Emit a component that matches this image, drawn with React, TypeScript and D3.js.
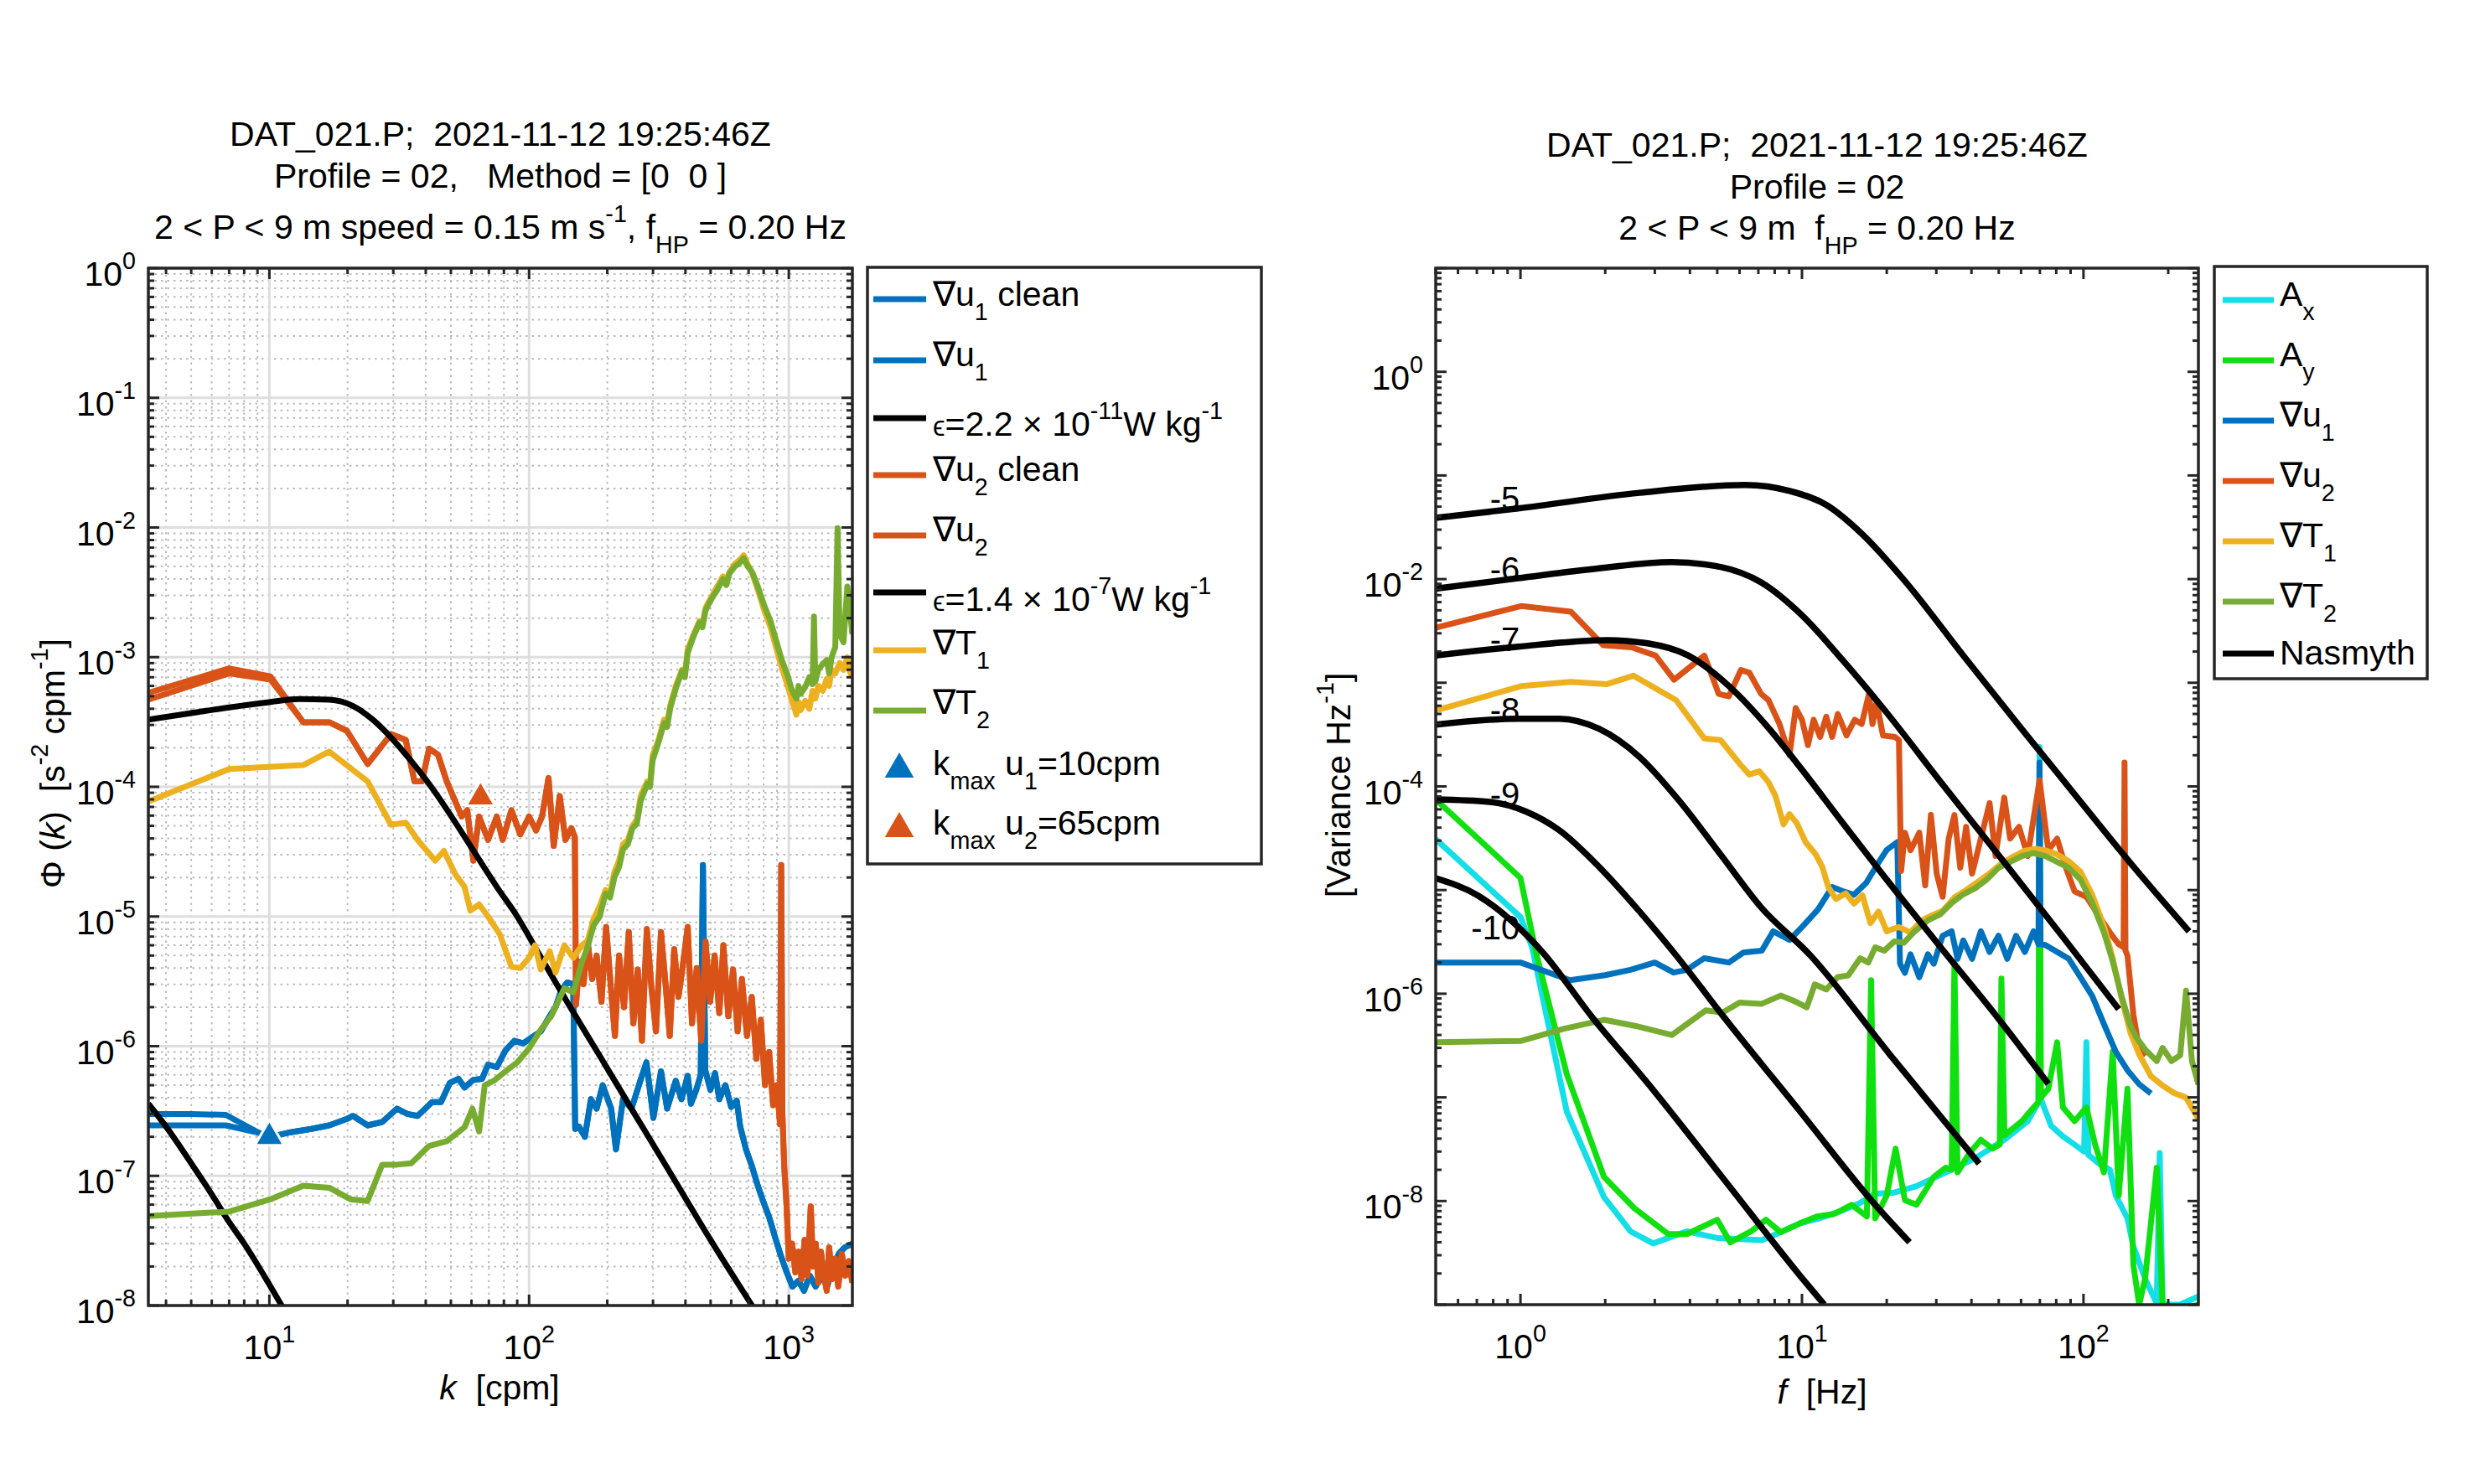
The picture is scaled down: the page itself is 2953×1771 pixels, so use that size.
import { useRef, useEffect } from "react";
import * as d3 from "d3";

type Pt = [number, number];
type Part = { t: string; sup?: boolean; sub?: boolean; it?: boolean; sc?: number };

const W = 2953;
const H = 1771;
const FONT = "'Liberation Sans', Arial, Helvetica, sans-serif";
const INK = "#262626";

const BLUE = "#0072BD";
const RED = "#D95319";
const YEL = "#EDB120";
const GRN = "#77AC30";
const CYAN = "#14DEE6";
const LIME = "#10E010";

// ---------- left panel: wavenumber spectra, k [cpm] vs Phi ----------
const kDomain: Pt = [3.42, 1757];
const phiDomain: Pt = [1e-8, 1];

const u1CleanHead: Pt[] = [[3.42, 2.45e-7], [5.0, 2.45e-7], [6.8, 2.45e-7]];
const u1Raw: Pt[] = [
  [3.42, 3.0e-7], [5.0, 3.0e-7], [6.8, 2.95e-7], [9.1, 2.15e-7], [10.1, 2.0e-7], [11.8, 2.15e-7],
  [14.5, 2.3e-7], [17.0, 2.45e-7], [19.9, 2.75e-7], [21.0, 2.9e-7], [23.9, 2.45e-7], [27.2, 2.6e-7],
  [31.0, 3.3e-7], [34.0, 3.0e-7], [37.2, 2.9e-7], [42.3, 3.7e-7], [45.8, 3.7e-7], [49.5, 5.2e-7],
  [53.5, 5.6e-7], [56.4, 4.8e-7], [61.0, 5.5e-7], [65.9, 5.6e-7], [69.5, 7.2e-7], [75.1, 6.9e-7],
  [81.2, 9.3e-7], [87.8, 1.1e-6], [94.9, 1.05e-6], [102.6, 1.17e-6], [110.9, 1.3e-6], [120, 1.7e-6],
  [126.4, 2.0e-6], [133.1, 2.7e-6], [140.3, 3.1e-6], [147.9, 3.0e-6], [150.5, 2.3e-7], [155.6, 2.4e-7],
  [164, 2.0e-7], [173, 3.9e-7], [182, 3.3e-7], [192, 5.0e-7], [207, 3.3e-7], [216, 1.6e-7],
  [230, 3.9e-7], [248, 3.3e-7], [268, 5.4e-7], [283, 7.5e-7], [301, 2.8e-7], [322, 6.4e-7],
  [340, 3.3e-7], [367, 5.4e-7], [386, 3.9e-7], [408, 5.9e-7], [420, 3.6e-7], [440, 4.6e-7],
  [458, 6.0e-7], [467, 2.5e-5], [477, 6.5e-7], [499, 4.6e-7], [520, 6.2e-7], [540, 3.9e-7],
  [570, 5.0e-7], [600, 3.4e-7], [630, 3.8e-7], [650, 2.4e-7], [684, 1.6e-7], [720, 1.2e-7],
  [758, 8.5e-8], [798, 6.3e-8], [840, 4.8e-8], [888, 3.3e-8], [933, 2.4e-8], [982, 1.8e-8],
  [1033, 1.4e-8], [1088, 1.55e-8], [1145, 1.3e-8], [1205, 1.7e-8], [1268, 1.4e-8], [1335, 1.7e-8],
  [1405, 1.4e-8], [1479, 2.0e-8], [1557, 2.5e-8], [1638, 2.8e-8], [1757, 3.0e-8],
];

const u2CleanHead: Pt[] = [[3.42, 4.7e-4], [7.0, 7.5e-4], [10.1, 6.7e-4]];
const u2Raw: Pt[] = [
  [3.42, 5.3e-4], [7.0, 8.2e-4], [10.1, 7.1e-4], [13.5, 3.15e-4], [17.0, 3.15e-4], [19.9, 2.7e-4],
  [23.9, 1.5e-4], [29.4, 2.55e-4], [33.5, 2.3e-4], [36.2, 1.1e-4], [38.7, 1.1e-4], [41.2, 1.97e-4],
  [44.6, 1.77e-4], [48.2, 1.1e-4], [55.0, 5.9e-5], [57.8, 6.6e-5], [61.0, 2.7e-5], [64.2, 5.9e-5],
  [69.5, 3.9e-5], [75.1, 5.9e-5], [79.1, 3.9e-5], [85.5, 6.6e-5], [92.5, 4.3e-5], [100, 5.9e-5],
  [106.4, 4.6e-5], [112.2, 5.9e-5], [118.8, 1.17e-4], [124.4, 3.5e-5], [131.2, 8.5e-5], [138, 3.9e-5],
  [145.5, 4.8e-5], [150, 4.1e-5], [151.6, 2.1e-6], [156, 4.5e-6], [162, 3.0e-6], [168, 6.4e-6],
  [175, 3.3e-6], [182, 5.0e-6], [190, 2.2e-6], [198, 8.3e-6], [206, 3.0e-6], [214, 1.2e-6],
  [222, 5.0e-6], [232, 2.0e-6], [242, 7.6e-6], [252, 1.5e-6], [262, 3.9e-6], [272, 1.1e-6],
  [284, 8.0e-6], [296, 2.8e-6], [308, 1.3e-6], [322, 7.6e-6], [334, 3.3e-6], [348, 1.2e-6],
  [362, 5.6e-6], [376, 2.4e-6], [392, 4.4e-6], [408, 8.3e-6], [424, 1.5e-6], [442, 4.0e-6],
  [460, 1.1e-6], [478, 6.4e-6], [498, 2.2e-6], [518, 5.0e-6], [540, 1.8e-6], [560, 6.0e-6],
  [585, 1.7e-6], [610, 3.9e-6], [635, 1.3e-6], [660, 3.3e-6], [690, 1.2e-6], [720, 2.4e-6],
  [750, 8.0e-7], [780, 1.6e-6], [810, 5.0e-7], [840, 9.0e-7], [870, 3.5e-7], [900, 5.0e-7],
  [925, 2.5e-7], [935, 2.5e-5], [945, 3.0e-7], [960, 1.2e-7], [980, 6.0e-8], [1000, 2.3e-8],
  [1030, 3.0e-8], [1060, 1.8e-8], [1090, 2.6e-8], [1120, 1.6e-8], [1150, 3.2e-8], [1180, 1.7e-8],
  [1215, 5.8e-8], [1240, 2.0e-8], [1270, 3.0e-8], [1300, 1.5e-8], [1330, 2.6e-8], [1360, 1.8e-8],
  [1400, 1.3e-8], [1430, 2.8e-8], [1470, 1.6e-8], [1510, 2.3e-8], [1550, 1.4e-8], [1600, 2.5e-8],
  [1650, 1.7e-8], [1700, 2.2e-8], [1757, 1.5e-8],
];

const t1Left: Pt[] = [
  [3.42, 7.7e-5], [7.0, 1.37e-4], [13.5, 1.47e-4], [17.0, 1.87e-4], [23.9, 1.1e-4], [29.4, 5.1e-5],
  [33.5, 5.3e-5], [37.2, 3.9e-5], [43.5, 2.7e-5], [47.0, 3.2e-5], [52.1, 2.1e-5], [56.4, 1.7e-5],
  [59.4, 1.11e-5], [64.2, 1.24e-5], [69.5, 1.0e-5], [77.1, 7.3e-6], [85.5, 4.1e-6], [92.5, 4.0e-6],
  [100, 4.8e-6], [105.4, 6.0e-6], [110.9, 3.9e-6], [120, 5.4e-6], [126.4, 3.7e-6], [136.7, 6.0e-6],
  [148, 4.8e-6], [160, 6.0e-6], [168, 6.5e-6], [177, 9.5e-6], [187, 1.2e-5], [197, 1.6e-5],
  [205, 1.5e-5], [213, 2.2e-5], [222, 2.7e-5], [230, 3.6e-5], [240, 3.9e-5], [250, 5.0e-5],
  [260, 5.6e-5], [269, 8.5e-5], [285, 1.1e-4], [292, 1.05e-4], [299, 1.75e-4], [315, 2.3e-4],
  [331, 3.3e-4], [340, 3.1e-4], [350, 4.3e-4], [368, 6.1e-4], [388, 8.0e-4], [398, 7.4e-4],
  [408, 1.15e-3], [430, 1.5e-3], [453, 1.9e-3], [465, 1.8e-3], [478, 2.4e-3], [503, 2.9e-3],
  [530, 3.5e-3], [558, 4.2e-3], [575, 3.8e-3], [590, 4.5e-3], [619, 5.2e-3], [645, 5.6e-3],
  [670, 6.1e-3], [695, 5.2e-3], [724, 4.4e-3], [760, 3.3e-3], [804, 2.3e-3], [850, 1.7e-3],
  [892, 1.2e-3], [940, 8.3e-4], [990, 6.0e-4], [1030, 4.6e-4], [1070, 3.6e-4], [1090, 4.5e-4],
  [1110, 3.9e-4], [1157, 4.6e-4], [1200, 4.0e-4], [1235, 5.5e-4], [1265, 4.8e-4], [1300, 6.0e-4],
  [1352, 5.5e-4], [1400, 6.8e-4], [1430, 6.0e-4], [1462, 8.0e-4], [1510, 7.5e-4], [1570, 9.0e-4],
  [1624, 8.0e-4], [1680, 1.0e-3], [1710, 8.0e-4], [1757, 7.0e-4],
];

const t2Left: Pt[] = [
  [3.42, 4.9e-8], [7.0, 5.3e-8], [10.1, 6.6e-8], [13.5, 8.4e-8], [17.0, 8.1e-8], [20.5, 6.6e-8],
  [23.9, 6.4e-8], [27.2, 1.22e-7], [31.0, 1.22e-7], [35.2, 1.25e-7], [41.2, 1.7e-7], [48.2, 1.85e-7],
  [56.4, 2.37e-7], [60.5, 3.3e-7], [64.2, 2.2e-7], [67.5, 5.0e-7], [73.0, 5.4e-7], [81.2, 6.4e-7],
  [90.1, 7.5e-7], [100, 9.6e-7], [110.9, 1.34e-6], [122, 1.72e-6], [136.7, 2.8e-6], [148, 2.6e-6],
  [160, 4.5e-6], [168, 5.8e-6], [177, 8.5e-6], [187, 1.0e-5], [197, 1.5e-5], [205, 1.4e-5],
  [213, 2.0e-5], [222, 2.4e-5], [230, 3.3e-5], [240, 3.6e-5], [250, 4.8e-5], [260, 5.2e-5],
  [269, 7.8e-5], [285, 1.05e-4], [292, 1.0e-4], [299, 1.6e-4], [315, 2.2e-4], [331, 3.1e-4],
  [340, 2.9e-4], [350, 4.1e-4], [368, 5.8e-4], [388, 7.8e-4], [398, 7.0e-4], [408, 1.08e-3],
  [430, 1.45e-3], [453, 1.85e-3], [465, 1.7e-3], [478, 2.3e-3], [503, 2.8e-3], [530, 3.3e-3],
  [558, 4.0e-3], [575, 3.6e-3], [590, 4.4e-3], [619, 5.0e-3], [645, 5.3e-3], [670, 5.8e-3],
  [695, 5.0e-3], [724, 4.5e-3], [760, 3.5e-3], [804, 2.5e-3], [850, 1.9e-3], [892, 1.36e-3],
  [940, 9.5e-4], [990, 7.2e-4], [1030, 5.5e-4], [1070, 4.8e-4], [1090, 6.0e-4], [1110, 5.2e-4],
  [1157, 5.9e-4], [1200, 7.0e-4], [1235, 6.2e-4], [1250, 2.06e-3], [1265, 6.5e-4], [1300, 8.0e-4],
  [1352, 8.9e-4], [1400, 9.5e-4], [1430, 7.5e-4], [1462, 1.0e-3], [1510, 1.2e-3], [1541, 9.9e-3],
  [1570, 1.5e-3], [1624, 1.3e-3], [1680, 3.5e-3], [1710, 2.5e-3], [1757, 1.5e-3],
];

// Nasmyth fits (eps = 2.2e-11 and 1.4e-7 W/kg)
const nasLow: Pt[] = [
  [3.42, 3.6e-7], [4.0, 2.4e-7], [5.0, 1.25e-7], [6.0, 7.2e-8], [7.0, 4.4e-8], [8.0, 3.0e-8],
  [10.0, 1.45e-8], [11.5, 9.0e-9],
];
const nasHigh: Pt[] = [
  [3.42, 3.3e-4], [5.0, 3.7e-4], [7.0, 4.1e-4], [10, 4.5e-4], [13, 4.75e-4], [17, 4.7e-4],
  [21, 4.2e-4], [25, 3.3e-4], [30, 2.3e-4], [35, 1.6e-4], [42, 1.0e-4], [50, 6.0e-5],
  [60, 3.4e-5], [75, 1.7e-5], [90, 1.0e-5], [110, 5.0e-6], [140, 2.2e-6], [190, 8.0e-7],
  [250, 3.2e-7], [350, 1.05e-7], [500, 3.2e-8], [700, 1.1e-8], [760, 8.5e-9],
];

const kmaxU1: Pt = [10, 2.0e-7];
const kmaxU2: Pt = [65, 8.3e-5];

// ---------- right panel: frequency spectra, f [Hz] vs variance ----------
const fDomain: Pt = [0.5, 256];
const varDomain: Pt = [1e-9, 10];

const axSpec: Pt[] = [
  [0.5, 3.1e-5], [1.0, 5.5e-6], [1.1, 2.8e-6], [1.25, 5.4e-7], [1.46, 7.3e-8], [1.98, 1.09e-8],
  [2.46, 5.1e-9], [2.96, 3.9e-9], [3.9, 5.1e-9], [5.0, 4.4e-9], [6.04, 4.3e-9], [7.2, 4.2e-9],
  [8.4, 5.0e-9], [9.85, 6.1e-9], [11.5, 6.8e-9], [13.4, 7.8e-9], [16.0, 9.5e-9], [18.2, 1.18e-8],
  [21.0, 1.2e-8], [25.5, 1.39e-8], [32.4, 1.89e-8], [41.2, 2.58e-8], [52.3, 3.9e-8], [63.4, 5.9e-8],
  [69.2, 9.0e-8], [69.8, 2.4e-4], [70.4, 9.8e-8], [76.8, 5.3e-8], [84.5, 4.2e-8], [93, 3.5e-8],
  [100.5, 3.0e-8], [102.4, 3.4e-7], [104, 2.8e-8], [112.7, 2.33e-8], [124.1, 2.0e-8], [130.2, 1.13e-8],
  [143.3, 6.8e-9], [150.4, 3.65e-9], [165.5, 1.78e-9], [182.1, 1.03e-9], [186.5, 2.9e-8], [191, 1.0e-9],
  [220, 1.0e-9], [256, 1.2e-9],
];

const aySpec: Pt[] = [
  [0.5, 7.5e-5], [1.0, 1.31e-5], [1.14, 2.4e-6], [1.46, 1.68e-7], [1.98, 1.71e-8], [2.54, 8.5e-9],
  [3.35, 4.8e-9], [3.9, 4.8e-9], [5.0, 6.6e-9], [5.56, 4.0e-9], [6.6, 5.1e-9], [7.45, 6.6e-9],
  [8.4, 5.0e-9], [9.85, 6.1e-9], [11.3, 7.1e-9], [13.0, 7.5e-9], [15.0, 9.2e-9], [17.0, 7.1e-9],
  [17.6, 1.35e-6], [18.2, 6.8e-9], [20, 1.13e-8], [21.5, 3.2e-8], [23.2, 1.02e-8], [25.5, 9.2e-9],
  [29.4, 1.71e-8], [32.4, 2.1e-8], [34.0, 2.0e-8], [34.8, 2.0e-6], [35.7, 1.89e-8], [39.2, 2.86e-8],
  [43.2, 3.9e-8], [47.5, 3.2e-8], [50.4, 3.5e-8], [51.1, 1.4e-6], [52.4, 4.3e-8], [60.4, 5.9e-8],
  [66.5, 8.0e-8], [69.2, 9.0e-8], [69.8, 1.6e-4], [70.6, 1.0e-7], [75.0, 1.21e-7], [80.6, 3.4e-7],
  [84.5, 8.0e-8], [93, 5.9e-8], [102.4, 8.0e-8], [110, 3.5e-8], [118.2, 1.89e-8], [127, 2.76e-7],
  [133.4, 1.13e-8], [143.3, 1.21e-7], [150.4, 2.4e-9], [157.7, 1.0e-9], [165.5, 1.78e-9], [182.1, 2.1e-8],
  [191, 1.0e-9], [220.6, 9.0e-10], [256, 1.0e-9],
];

const u1Freq: Pt[] = [
  [0.5, 2.0e-6], [1.0, 2.0e-6], [1.5, 1.35e-6], [2.0, 1.51e-6], [2.46, 1.7e-6], [3.0, 2.0e-6],
  [3.5, 1.6e-6], [3.9, 1.7e-6], [4.49, 2.2e-6], [5.5, 2.0e-6], [6.2, 2.5e-6], [7.2, 2.6e-6],
  [7.9, 4.0e-6], [9.03, 3.3e-6], [10.0, 4.4e-6], [11.4, 6.5e-6], [12.8, 1.07e-5], [13.9, 9.8e-6],
  [15.3, 9.0e-6], [16.9, 1.17e-5], [18.7, 1.84e-5], [20, 2.44e-5], [21.8, 2.9e-5], [22.3, 1.95e-6],
  [23.2, 1.59e-6], [24.3, 2.4e-6], [26.1, 1.44e-6], [28.0, 2.4e-6], [29.4, 1.95e-6], [31.6, 3.62e-6],
  [34.0, 4.0e-6], [35.7, 2.17e-6], [37.4, 3.27e-6], [40.2, 2.17e-6], [43.2, 4.0e-6], [46.4, 2.53e-6],
  [49.9, 3.62e-6], [53.6, 2.17e-6], [57.6, 3.62e-6], [61.9, 2.53e-6], [66.5, 4.0e-6], [69.2, 3.0e-6],
  [69.8, 1.7e-4], [70.4, 3.0e-6], [73.2, 2.95e-6], [80.6, 2.53e-6], [88.7, 2.17e-6], [97.6, 1.44e-6],
  [107.4, 9.5e-7], [118.2, 5.1e-7], [130.2, 2.76e-7], [143.3, 1.83e-7], [157.7, 1.34e-7], [173.6, 1.09e-7],
];

const u2Freq: Pt[] = [
  [0.5, 3.4e-3], [1.01, 5.5e-3], [1.51, 4.85e-3], [1.97, 2.3e-3], [2.48, 2.2e-3], [3.02, 1.83e-3],
  [3.51, 1.07e-3], [4.5, 1.83e-3], [5.06, 7.8e-4], [5.5, 7.4e-4], [6.07, 1.33e-3], [6.5, 1.25e-3],
  [7.16, 7.8e-4], [7.6, 6.8e-4], [8.32, 4.0e-4], [9.03, 2.0e-4], [9.5, 5.7e-4], [10.0, 4.4e-4],
  [10.5, 2.5e-4], [11.0, 4.4e-4], [11.6, 3.0e-4], [12.2, 4.7e-4], [12.8, 3.0e-4], [13.4, 5.0e-4],
  [14.4, 3.1e-4], [15.4, 4.4e-4], [16.3, 4.0e-4], [17.3, 7.8e-4], [17.8, 4.0e-4], [18.4, 6.5e-4],
  [19.4, 3.1e-4], [21.4, 3.0e-4], [22.1, 2.8e-4], [22.5, 1.53e-5], [23.2, 3.58e-5], [24.3, 2.42e-5],
  [26.1, 3.58e-5], [27.4, 1.11e-5], [28.7, 5.3e-5], [30.1, 1.44e-5], [31.6, 8.6e-6], [33.2, 3.14e-5],
  [34.8, 5.3e-5], [36.5, 1.64e-5], [38.3, 4.07e-5], [40.2, 1.44e-5], [43.2, 3.14e-5], [46.4, 6.9e-5],
  [48.7, 2.13e-5], [52.3, 7.8e-5], [54.9, 3.14e-5], [59.0, 4.07e-5], [63.4, 2.13e-5], [69.8, 1.15e-4],
  [75.0, 2.42e-5], [80.6, 3.14e-5], [86.6, 1.64e-5], [93.0, 9.7e-6], [102.4, 8.6e-6], [112.7, 5.8e-6],
  [124.1, 3.9e-6], [133.4, 3.0e-6], [138.8, 2.8e-6], [139.9, 1.7e-4], [141, 2.6e-6], [143.3, 2.33e-6],
  [150.4, 6.3e-7], [157.7, 2.9e-7], [165.5, 2.5e-7],
];

const t1Freq: Pt[] = [
  [0.5, 5.4e-4], [1.01, 9.3e-4], [1.51, 1.02e-3], [2.03, 9.7e-4], [2.52, 1.17e-3], [3.57, 6.8e-4],
  [4.5, 2.9e-4], [5.14, 2.8e-4], [6.07, 1.6e-4], [6.5, 1.3e-4], [7.06, 1.4e-4], [7.6, 1.1e-4],
  [8.05, 8.1e-5], [8.6, 4.3e-5], [9.03, 5.4e-5], [9.6, 4.4e-5], [10.3, 2.9e-5], [11.2, 2.2e-5],
  [11.8, 1.68e-5], [12.4, 1.07e-5], [13.2, 8.2e-6], [14.3, 9.3e-6], [15.3, 7.4e-6], [16.4, 8.9e-6],
  [17.5, 4.8e-6], [18.7, 6.2e-6], [20.0, 4.0e-6], [22.1, 4.4e-6], [24.3, 3.9e-6], [26.7, 5.1e-6],
  [28.9, 5.7e-6], [31.6, 6.3e-6], [34.8, 8.5e-6], [38.3, 1.0e-5], [42.2, 1.2e-5], [46.4, 1.45e-5],
  [51.1, 1.8e-5], [56.3, 2.1e-5], [61.9, 2.4e-5], [68, 2.5e-5], [74, 2.4e-5], [80.6, 2.2e-5],
  [88.7, 1.9e-5], [97.6, 1.5e-5], [107.4, 9.0e-6], [118.2, 4.5e-6], [127, 2.2e-6], [136.6, 9.0e-7],
  [146.8, 4.2e-7], [157.7, 2.6e-7], [173.6, 1.6e-7], [191, 1.3e-7], [210, 1.1e-7], [231, 1.0e-7],
  [256, 6.2e-8],
];

const t2Freq: Pt[] = [
  [0.5, 3.4e-7], [1.0, 3.5e-7], [1.43, 4.6e-7], [1.98, 5.6e-7], [2.55, 4.9e-7], [3.45, 4.0e-7],
  [4.55, 6.9e-7], [5.23, 6.6e-7], [6.0, 8.2e-7], [7.2, 8.0e-7], [8.4, 9.6e-7], [9.3, 8.6e-7],
  [10.4, 7.4e-7], [11.1, 1.23e-6], [12.2, 1.1e-6], [13.4, 1.45e-6], [14.6, 1.5e-6], [16.1, 2.2e-6],
  [17.2, 2.0e-6], [18.2, 2.8e-6], [19.6, 2.6e-6], [21.3, 3.2e-6], [23.0, 3.1e-6], [24.9, 3.9e-6],
  [28.0, 5.1e-6], [30.9, 5.8e-6], [34.0, 7.5e-6], [37.4, 9.1e-6], [41.2, 1.04e-5], [45.3, 1.26e-5],
  [49.9, 1.64e-5], [54.9, 1.87e-5], [60.4, 2.13e-5], [66.5, 2.27e-5], [73.2, 2.13e-5], [80.6, 1.87e-5],
  [88.7, 1.64e-5], [97.6, 1.26e-5], [107.4, 7.5e-6], [118.2, 3.9e-6], [127, 2.05e-6], [136.6, 9.4e-7],
  [146.8, 4.9e-7], [154, 3.8e-7], [165.5, 2.9e-7], [182.1, 2.24e-7], [191, 3.0e-7], [205.4, 2.24e-7],
  [220.6, 2.55e-7], [231.4, 1.07e-6], [242.8, 2.24e-7], [256, 1.33e-7],
];

// Nasmyth curves for log10(eps) = -5 ... -10
const nas5: Pt[] = [
  [0.5, 3.9e-2], [0.98, 4.8e-2], [2.65, 6.8e-2], [6.28, 8.1e-2], [9.03, 7.1e-2], [12.2, 5.2e-2],
  [16.4, 2.7e-2], [22.9, 1.0e-2], [37.6, 1.8e-3], [61.8, 3.3e-4], [91.4, 8.9e-5], [150, 1.7e-5],
  [237, 4.0e-6],
];
const nas6: Pt[] = [
  [0.5, 8.1e-3], [0.98, 1.02e-2], [1.9, 1.27e-2], [3.45, 1.46e-2], [5.14, 1.31e-2], [7.16, 9.3e-3],
  [9.98, 4.5e-3], [13.9, 1.67e-3], [19.4, 5.7e-4], [31.8, 1.02e-4], [52.4, 1.84e-5], [86.1, 3.3e-6],
  [133.4, 7.1e-7],
];
const nas7: Pt[] = [
  [0.5, 1.83e-3], [0.98, 2.23e-3], [2.03, 2.58e-3], [2.83, 2.4e-3], [3.95, 1.83e-3], [5.5, 9.3e-4],
  [7.65, 3.6e-4], [9.98, 1.46e-4], [13.9, 4.5e-5], [19.4, 1.4e-5], [31.8, 2.6e-6], [50, 5.7e-7],
  [75, 1.35e-7],
];
const nas8: Pt[] = [
  [0.5, 3.95e-4], [0.98, 4.5e-4], [1.37, 4.5e-4], [1.9, 3.6e-4], [2.65, 1.92e-4], [3.69, 7.1e-5],
  [5.14, 2.2e-5], [7.16, 6.8e-6], [10.7, 2.35e-6], [20.5, 2.6e-7], [42.6, 2.3e-8],
];
const nas9: Pt[] = [
  [0.5, 7.5e-5], [0.777, 7.1e-5], [1.05, 5.7e-5], [1.37, 3.8e-5], [1.9, 1.68e-5], [2.65, 6.2e-6],
  [3.57, 2.35e-6], [5.32, 5.8e-7], [9.85, 7.3e-8], [18.2, 9.2e-9], [24.1, 4.0e-9],
];
const nas10: Pt[] = [
  [0.5, 1.3e-5], [0.704, 8.9e-6], [1.0, 4.2e-6], [1.2, 2.5e-6], [1.81, 5.8e-7], [2.87, 1.31e-7],
  [5.32, 1.58e-8], [9.85, 1.9e-9], [12.0, 1.0e-9],
];
const nasLabels = ["-5", "-6", "-7", "-8", "-9", "-10"];
const nasLabelF = [0.88, 0.88, 0.88, 0.88, 0.88, 0.815];
const nasLabelV = [6.0e-2, 1.26e-2, 2.6e-3, 5.5e-4, 8.4e-5, 4.35e-6];

// ---------- text ----------
const titleLeft: Part[][] = [
  [{ t: "DAT_021.P;  2021-11-12 19:25:46Z" }],
  [{ t: "Profile = 02,   Method = [0  0 ]" }],
  [{ t: "2 < P < 9 m speed = 0.15 m s" }, { t: "-1", sup: true }, { t: ", f" }, { t: "HP", sub: true }, { t: " = 0.20 Hz" }],
];
const titleRight: Part[][] = [
  [{ t: "DAT_021.P;  2021-11-12 19:25:46Z" }],
  [{ t: "Profile = 02" }],
  [{ t: "2 < P < 9 m  f" }, { t: "HP", sub: true }, { t: " = 0.20 Hz" }],
];

const legendLeft: { color: string; marker?: boolean; parts: Part[] }[] = [
  { color: BLUE, parts: [{ t: "∇u" }, { t: "1", sub: true }, { t: " clean" }] },
  { color: BLUE, parts: [{ t: "∇u" }, { t: "1", sub: true }] },
  { color: "#000", parts: [{ t: "ϵ", sc: 0.8 }, { t: "=2.2 × 10" }, { t: "-11", sup: true }, { t: "W kg" }, { t: "-1", sup: true }] },
  { color: RED, parts: [{ t: "∇u" }, { t: "2", sub: true }, { t: " clean" }] },
  { color: RED, parts: [{ t: "∇u" }, { t: "2", sub: true }] },
  { color: "#000", parts: [{ t: "ϵ", sc: 0.8 }, { t: "=1.4 × 10" }, { t: "-7", sup: true }, { t: "W kg" }, { t: "-1", sup: true }] },
  { color: YEL, parts: [{ t: "∇T" }, { t: "1", sub: true }] },
  { color: GRN, parts: [{ t: "∇T" }, { t: "2", sub: true }] },
  { color: BLUE, marker: true, parts: [{ t: "k" }, { t: "max", sub: true }, { t: " u" }, { t: "1", sub: true }, { t: "=10cpm" }] },
  { color: RED, marker: true, parts: [{ t: "k" }, { t: "max", sub: true }, { t: " u" }, { t: "2", sub: true }, { t: "=65cpm" }] },
];
const legendRight: { color: string; parts: Part[] }[] = [
  { color: CYAN, parts: [{ t: "A" }, { t: "x", sub: true }] },
  { color: LIME, parts: [{ t: "A" }, { t: "y", sub: true }] },
  { color: BLUE, parts: [{ t: "∇u" }, { t: "1", sub: true }] },
  { color: RED, parts: [{ t: "∇u" }, { t: "2", sub: true }] },
  { color: YEL, parts: [{ t: "∇T" }, { t: "1", sub: true }] },
  { color: GRN, parts: [{ t: "∇T" }, { t: "2", sub: true }] },
  { color: "#000", parts: [{ t: "Nasmyth" }] },
];

// layout
const LA = { x0: 177, x1: 1017, y0: 320, y1: 1558 };
const RA = { x0: 1713, x1: 2623, y0: 320, y1: 1557 };
const FS = 41;
const LW = 7;

function rich(parent: any, x: number, y: number, parts: Part[], fs: number, anchor = "start") {
  const t = parent
    .append("text")
    .attr("x", x)
    .attr("y", y)
    .attr("font-size", fs)
    .attr("text-anchor", anchor)
    .attr("fill", "#000")
    .style("white-space", "pre");
  let cur = 0;
  for (const p of parts) {
    const off = p.sup ? -0.48 * fs : p.sub ? 0.42 * fs : 0;
    const ts = t.append("tspan").attr("dy", off - cur).text(p.t);
    if (p.sup || p.sub) ts.attr("font-size", fs * 0.7);
    else if (p.sc) ts.attr("font-size", fs * p.sc);
    if (p.it) ts.attr("font-style", "italic");
    cur = off;
  }
  return t;
}

function logTicks(lo: number, hi: number) {
  const out: { v: number; major: boolean; e: number }[] = [];
  for (let e = Math.floor(Math.log10(lo)); e <= Math.ceil(Math.log10(hi)); e++)
    for (let m = 1; m <= 9; m++) {
      const v = m * Math.pow(10, e);
      if (v >= lo * 0.9999 && v <= hi * 1.0001) out.push({ v, major: m === 1, e });
    }
  return out;
}

function axesFrame(g: any, x: any, y: any, box: typeof LA, grid: boolean, yLabelEvery: number) {
  const xt = logTicks(x.domain()[0], x.domain()[1]);
  const yt = logTicks(y.domain()[0], y.domain()[1]);
  if (grid) {
    const gg = g.append("g");
    xt.filter((d) => !d.major).forEach((d) =>
      gg.append("line").attr("x1", x(d.v)).attr("x2", x(d.v)).attr("y1", box.y0).attr("y2", box.y1)
        .attr("stroke", "#bcbcbc").attr("stroke-width", 2).attr("stroke-dasharray", "2.5 5"));
    yt.filter((d) => !d.major).forEach((d) =>
      gg.append("line").attr("y1", y(d.v)).attr("y2", y(d.v)).attr("x1", box.x0).attr("x2", box.x1)
        .attr("stroke", "#bcbcbc").attr("stroke-width", 2).attr("stroke-dasharray", "2.5 5"));
    xt.filter((d) => d.major).forEach((d) =>
      gg.append("line").attr("x1", x(d.v)).attr("x2", x(d.v)).attr("y1", box.y0).attr("y2", box.y1)
        .attr("stroke", "#dedede").attr("stroke-width", 3));
    yt.filter((d) => d.major).forEach((d) =>
      gg.append("line").attr("y1", y(d.v)).attr("y2", y(d.v)).attr("x1", box.x0).attr("x2", box.x1)
        .attr("stroke", "#dedede").attr("stroke-width", 3));
  }
  return () => {
    const fg = g.append("g").attr("stroke", INK).attr("stroke-width", 3);
    xt.forEach((d) => {
      const L = d.major ? 13 : 7;
      fg.append("line").attr("x1", x(d.v)).attr("x2", x(d.v)).attr("y1", box.y1).attr("y2", box.y1 - L);
      fg.append("line").attr("x1", x(d.v)).attr("x2", x(d.v)).attr("y1", box.y0).attr("y2", box.y0 + L);
    });
    yt.forEach((d) => {
      const L = d.major ? 13 : 7;
      fg.append("line").attr("y1", y(d.v)).attr("y2", y(d.v)).attr("x1", box.x0).attr("x2", box.x0 + L);
      fg.append("line").attr("y1", y(d.v)).attr("y2", y(d.v)).attr("x1", box.x1).attr("x2", box.x1 - L);
    });
    fg.append("rect").attr("x", box.x0).attr("y", box.y0).attr("width", box.x1 - box.x0)
      .attr("height", box.y1 - box.y0).attr("fill", "none").attr("stroke-width", 3.5);
    const tg = g.append("g");
    xt.filter((d) => d.major).forEach((d) =>
      rich(tg, x(d.v), box.y1 + 64, [{ t: "10" }, { t: String(d.e), sup: true }], FS, "middle"));
    yt.filter((d) => d.major && d.e % yLabelEvery === 0).forEach((d) =>
      rich(tg, box.x0 - 15, y(d.v) + 21, [{ t: "10" }, { t: String(d.e), sup: true }], FS, "end"));
  };
}

export default function App() {
  const ref = useRef<SVGSVGElement | null>(null);

  useEffect(() => {
    const svg = d3.select(ref.current).attr("viewBox", `0 0 ${W} ${H}`).attr("font-family", FONT);
    svg.selectAll("*").remove();
    svg.append("rect").attr("width", W).attr("height", H).attr("fill", "#fff");

    const defs = svg.append("defs");
    [["clipL", LA], ["clipR", RA]].forEach(([id, b]: any) =>
      defs.append("clipPath").attr("id", id).append("rect")
        .attr("x", b.x0).attr("y", b.y0).attr("width", b.x1 - b.x0).attr("height", b.y1 - b.y0));

    // ---------------- left panel ----------------
    const xL = d3.scaleLog().domain(kDomain).range([LA.x0, LA.x1]);
    const yL = d3.scaleLog().domain(phiDomain).range([LA.y1, LA.y0]);
    const gL = svg.append("g");
    const finishL = axesFrame(gL, xL, yL, LA, true, 1);
    const lineL = d3.line<Pt>().x((d) => xL(d[0])).y((d) => yL(d[1]));
    const smoothL = d3.line<Pt>().x((d) => xL(d[0])).y((d) => yL(d[1])).curve(d3.curveMonotoneX);
    const dL = gL.append("g").attr("clip-path", "url(#clipL)").attr("fill", "none")
      .attr("stroke-width", LW).attr("stroke-linejoin", "round");

    const u1Clean = [...u1CleanHead, ...u1Raw.slice(u1CleanHead.length)];
    const u2Clean = [...u2CleanHead, ...u2Raw.slice(u2CleanHead.length)];
    const leftSeries: [Pt[], string, any][] = [
      [u1Clean, BLUE, lineL], [u1Raw, BLUE, lineL], [nasLow, "#000", smoothL],
      [u2Clean, RED, lineL], [u2Raw, RED, lineL], [nasHigh, "#000", smoothL],
      [t1Left, YEL, lineL], [t2Left, GRN, lineL],
    ];
    leftSeries.forEach(([d, c, gen]) => dL.append("path").datum(d).attr("stroke", c).attr("d", gen));

    const tri = d3.symbol().type(d3.symbolTriangle).size(520);
    [[kmaxU1, BLUE], [kmaxU2, RED]].forEach(([p, c]: any) =>
      dL.append("path").attr("d", tri()).attr("transform", `translate(${xL(p[0])},${yL(p[1])})`)
        .attr("fill", c).attr("stroke", "#fff").attr("stroke-width", 3));
    finishL();

    titleLeft.forEach((parts, i) => rich(svg, (LA.x0 + LA.x1) / 2, [174, 224, 285][i], parts, FS, "middle"));
    rich(svg, 596, 1670, [{ t: "k", it: true }, { t: "  [cpm]" }], FS, "middle");
    rich(svg.append("g").attr("transform", "translate(77,911) rotate(-90)"), 0, 0,
      [{ t: "Φ (" }, { t: "k", it: true }, { t: ")  [s" }, { t: "-2", sup: true }, { t: " cpm" }, { t: "-1", sup: true }, { t: "]" }],
      FS, "middle");

    // left legend
    const lg = svg.append("g");
    lg.append("rect").attr("x", 1035).attr("y", 319).attr("width", 470).attr("height", 712)
      .attr("fill", "#fff").attr("stroke", INK).attr("stroke-width", 3.5);
    const rowsL = [357, 430, 499, 567, 639, 707, 776, 848, 918, 989];
    const baseL = [365, 437, 520, 574, 646, 729, 781, 852, 925, 996];
    legendLeft.forEach((e, i) => {
      if (e.marker) {
        lg.append("path").attr("d", tri()).attr("transform", `translate(1073,${rowsL[i]})`).attr("fill", e.color);
      } else {
        lg.append("line").attr("x1", 1042).attr("x2", 1105).attr("y1", rowsL[i]).attr("y2", rowsL[i])
          .attr("stroke", e.color).attr("stroke-width", LW);
      }
      rich(lg, 1113, baseL[i], e.parts, FS);
    });

    // ---------------- right panel ----------------
    const xR = d3.scaleLog().domain(fDomain).range([RA.x0, RA.x1]);
    const yR = d3.scaleLog().domain(varDomain).range([RA.y1, RA.y0]);
    const gR = svg.append("g");
    const finishR = axesFrame(gR, xR, yR, RA, false, 2);
    const lineR = d3.line<Pt>().x((d) => xR(d[0])).y((d) => yR(d[1]));
    const smoothR = d3.line<Pt>().x((d) => xR(d[0])).y((d) => yR(d[1])).curve(d3.curveMonotoneX);
    const dR = gR.append("g").attr("clip-path", "url(#clipR)").attr("fill", "none")
      .attr("stroke-width", LW).attr("stroke-linejoin", "round");
    const rightSeries: [Pt[], string][] = [
      [axSpec, CYAN], [aySpec, LIME], [u1Freq, BLUE], [u2Freq, RED], [t1Freq, YEL], [t2Freq, GRN],
    ];
    rightSeries.forEach(([d, c]) => dR.append("path").datum(d).attr("stroke", c).attr("d", lineR));
    [nas5, nas6, nas7, nas8, nas9, nas10].forEach((d) =>
      dR.append("path").datum(d).attr("stroke", "#000").attr("stroke-width", 7.5).attr("d", smoothR));
    nasLabels.forEach((s, i) =>
      gR.append("text").attr("x", xR(nasLabelF[i])).attr("y", yR(nasLabelV[i])).attr("dy", "0.35em")
        .attr("text-anchor", "middle").attr("font-size", 40).text(s));
    finishR();

    titleRight.forEach((parts, i) => rich(svg, (RA.x0 + RA.x1) / 2, [187, 237, 286][i], parts, FS, "middle"));
    rich(svg, 2174, 1675, [{ t: "f", it: true }, { t: "  [Hz]" }], FS, "middle");
    rich(svg.append("g").attr("transform", "translate(1611,937) rotate(-90)"), 0, 0,
      [{ t: "[Variance Hz" }, { t: "-1", sup: true }, { t: "]" }], FS, "middle");

    // right legend
    const rg = svg.append("g");
    rg.append("rect").attr("x", 2642).attr("y", 318).attr("width", 254).attr("height", 492)
      .attr("fill", "#fff").attr("stroke", INK).attr("stroke-width", 3.5);
    const rowsR = [358, 430, 502, 574, 646, 718, 780];
    const baseR = [365, 437, 509, 581, 653, 725, 793];
    legendRight.forEach((e, i) => {
      rg.append("line").attr("x1", 2652).attr("x2", 2713).attr("y1", rowsR[i]).attr("y2", rowsR[i])
        .attr("stroke", e.color).attr("stroke-width", LW);
      rich(rg, 2720, baseR[i], e.parts, FS);
    });
  }, []);

  return (
    <svg
      ref={ref}
      width={W}
      height={H}
      style={{ position: "absolute", left: 0, top: 0, display: "block" }}
    />
  );
}
